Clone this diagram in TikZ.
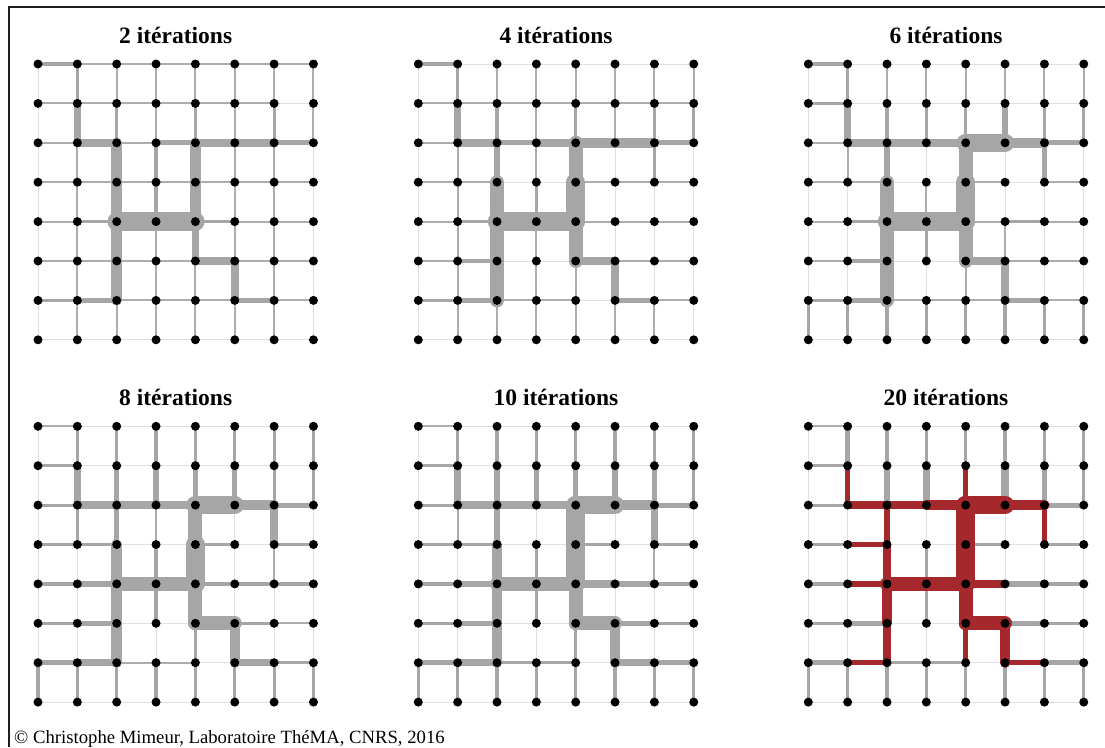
\documentclass[tikz,border=0pt]{standalone}
\usepackage{fontspec}
\setmainfont{Liberation Serif}
\definecolor{edgegray}{HTML}{A6A6A6}
\definecolor{thingray}{HTML}{ADADAD}
\definecolor{faintgray}{HTML}{E0E0E0}
\definecolor{pathred}{HTML}{A5282D}
\definecolor{framegray}{HTML}{1E1E1E}

\newcommand{\mkgrid}[3]{%
  \foreach \cc in {0,...,7}{\foreach \rr in {0,...,7}{%
    \coordinate (#1-\cc-\rr) at ({#2+\cc*39.35},{#3+\rr*39.4});
  }}%
}
\newcommand{\griddots}[1]{%
  \foreach \cc in {0,...,7}{\foreach \rr in {0,...,7}{%
    \node[dot] (#1-\cc-\rr-d) at (#1-\cc-\rr) {};
  }}%
}
\newcommand{\gridedge}[3]{%
  \pgfmathtruncatemacro\lv{mod(#1,10)}%
  \ifcase\lv\relax \def\lw{0.9}\or\def\lw{2}\or\def\lw{3.2}\or\def\lw{5.2}\or\def\lw{7.5}\or\def\lw{10.5}\or\def\lw{14}\or\def\lw{18.5}\fi
  \ifnum#1>9\relax \def\ec{pathred}\else
    \ifnum\lv=0\relax\def\ec{faintgray}\else\ifnum\lv=1\relax\def\ec{thingray}\else\def\ec{edgegray}\fi\fi
  \fi
  \draw[edge, line width=\lw pt, draw=\ec] (#2.center) -- (#3.center);
}
\newcommand{\gridedges}[3]{%
  \foreach \lev in {0,...,7}{%
    \foreach \rowlist [count=\rr from 0] in {#2}{%
      \foreach \w [count=\cc from 0] in \rowlist {%
        \pgfmathtruncatemacro\wl{mod(\w,10)}%
        \ifnum\wl=\lev\relax
          \pgfmathtruncatemacro\cn{\cc+1}%
          \gridedge{\w}{#1-\cc-\rr}{#1-\cn-\rr}%
        \fi
      }%
    }%
    \foreach \collist [count=\cc from 0] in {#3}{%
      \foreach \w [count=\rr from 0] in \collist {%
        \pgfmathtruncatemacro\wl{mod(\w,10)}%
        \ifnum\wl=\lev\relax
          \pgfmathtruncatemacro\rn{\rr+1}%
          \gridedge{\w}{#1-\cc-\rr}{#1-\cc-\rn}%
        \fi
      }%
    }%
  }%
}

\begin{document}
\begin{tikzpicture}[x=1pt,y=-1pt,
  edge/.style={line cap=round},
  dot/.style={circle,fill=black,draw=none,inner sep=0pt,minimum size=9pt},
  ttl/.style={anchor=base,inner sep=0pt,font=\fontsize{23.5}{28}\selectfont\bfseries},
  credit/.style={anchor=base west,inner sep=0pt,font=\fontsize{18.7}{22}\selectfont}]
\useasboundingbox (0,0) rectangle (1105,747);
\fill[white] (0,0) rectangle (1105,747);
\draw[line width=1.7pt, draw=framegray] (9.3,747) -- (9.3,7.3) -- (1105,7.3);

\mkgrid{A}{38}{64}
\mkgrid{B}{418.3}{64}
\mkgrid{C}{808.3}{64}
\mkgrid{D}{38}{426.3}
\mkgrid{E}{418.3}{426.3}
\mkgrid{F}{808.3}{426.3}

% panel A : 2 iterations
\gridedges{A}{{2,1,1,1,1,1,1},{1,1,1,1,1,1,0},{1,4,1,3,4,4,3},{1,1,1,1,1,1,1},{1,2,7,7,2,1,1},{1,1,1,1,4,1,1},{2,3,1,1,1,3,1},{0,0,0,0,0,0,0}}
{{0,0,0,0,0,0,0},{2,4,1,1,1,1,1},{1,2,5,5,5,5,1},{1,1,2,2,1,1,1},{1,2,5,5,4,1,1},{1,1,1,1,1,4,1},{1,2,1,1,1,1,1},{1,1,0,0,0,0,0}}

% panel B : 4 iterations
\gridedges{B}{{2,0,0,0,0,0,0},{1,1,1,1,1,1,1},{1,4,3,4,5,5,3},{1,1,0,0,1,1,1},{1,2,7,7,1,1,1},{1,2,0,0,4,1,1},{2,3,1,1,0,3,1},{0,0,0,0,0,0,0}}
{{0,0,0,0,0,0,0},{2,4,1,1,1,1,1},{1,2,3,6,6,6,1},{1,1,1,2,1,1,1},{1,2,6,7,6,1,1},{1,1,0,0,0,4,1},{1,2,2,0,0,0,1},{1,2,0,0,0,0,0}}

% panel C : 6 iterations
\gridedges{C}{{2,0,0,0,0,0,0},{2,0,0,0,0,0,0},{1,4,4,4,7,5,3},{1,1,0,0,1,0,1},{1,2,7,7,1,2,1},{1,2,0,0,4,1,1},{2,3,1,1,1,3,1},{0,0,0,0,0,0,0}}
{{0,0,0,0,0,0,2},{2,4,1,0,0,0,2},{1,2,3,6,6,6,2},{1,2,0,1,2,0,2},{1,2,6,7,6,1,2},{1,3,0,0,1,4,2},{1,2,3,0,0,0,2},{1,2,0,0,0,0,2}}

% panel D : 8 iterations
\gridedges{D}{{1,0,0,0,0,0,0},{2,0,0,0,0,0,0},{2,4,4,4,7,5,3},{2,2,0,0,2,0,2},{2,3,6,6,2,2,2},{2,3,0,0,6,2,1},{3,4,1,1,0,4,2},{0,0,0,0,0,0,0}}
{{0,0,0,0,0,0,2},{2,4,2,0,0,0,2},{2,3,3,5,5,5,2},{2,3,1,2,2,0,2},{2,3,6,7,6,2,2},{2,3,0,0,0,5,2},{2,2,4,1,0,0,2},{2,2,0,0,0,0,2}}

% panel E : 10 iterations
\gridedges{E}{{1,0,0,0,0,0,0},{2,0,0,0,0,0,0},{2,4,4,4,7,5,3},{2,2,0,0,2,0,2},{2,3,6,6,4,3,2},{2,3,0,0,6,3,2},{3,4,2,2,0,4,3},{0,0,0,0,0,0,0}}
{{0,0,0,0,0,0,2},{2,4,1,0,0,0,2},{2,3,3,5,5,5,2},{2,3,0,2,2,0,2},{2,3,7,7,6,2,2},{2,3,0,0,0,5,2},{2,3,4,1,0,0,2},{2,2,0,0,0,0,2}}

% panel F : 20 iterations (red = +10)
\gridedges{F}{{1,0,0,0,0,0,0},{2,0,0,0,0,0,0},{2,14,14,15,17,15,3},{2,13,0,0,2,0,2},{2,13,16,16,14,3,2},{2,3,0,0,16,3,2},{3,13,2,2,0,13,3},{0,0,0,0,0,0,0}}
{{0,0,0,0,0,0,2},{3,13,0,0,0,0,2},{2,3,13,14,15,14,2},{2,4,0,2,2,0,2},{2,13,17,17,16,13,2},{2,4,0,0,0,15,2},{2,3,13,0,0,0,2},{2,2,0,0,0,0,2}}

\griddots{A}
\griddots{B}
\griddots{C}
\griddots{D}
\griddots{E}
\griddots{F}

\node[ttl] (tA) at (175.7,43.5) {2 itérations};
\node[ttl] (tB) at (556,43.5) {4 itérations};
\node[ttl] (tC) at (946,43.5) {6 itérations};
\node[ttl] (tD) at (175.7,405.8) {8 itérations};
\node[ttl] (tE) at (556,405.8) {10 itérations};
\node[ttl] (tF) at (946,405.8) {20 itérations};

\node[credit] (cr) at (14,743) {© Christophe Mimeur, Laboratoire ThéMA, CNRS, 2016};
\end{tikzpicture}
\end{document}
